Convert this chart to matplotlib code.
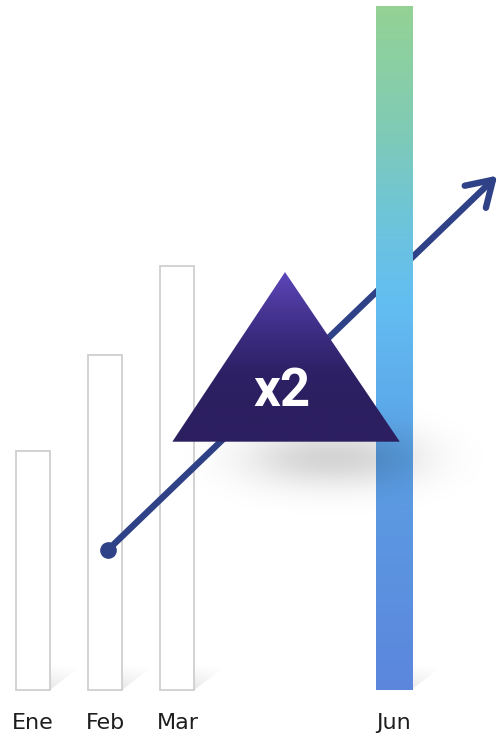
import numpy as np
import matplotlib.pyplot as plt
from matplotlib.colors import LinearSegmentedColormap
from matplotlib.patches import Polygon, FancyArrowPatch

# Data
months = ["Ene", "Feb", "Mar", "Abr", "May", "Jun"]
values = [35, 49, 62, 0, 0, 100]
shown = ["Ene", "Feb", "Mar", "Jun"]
trend_x = [1.04, 6.43]
trend_y = [20.5, 75.2]
badge_text = "x2"

# figure in pixel-like layout
fig = plt.figure(figsize=(4.98, 7.36), dpi=100)
ax = fig.add_axes([0, 0, 1, 1])
ax.set_xlim(-0.457, 6.44)
ax.set_ylim(-6.73, 100.88)
ax.axis("off")

bar_w = 0.47
xpos = np.arange(len(months))

# small diagonal shadows at bar bottoms
grey_fade = LinearSegmentedColormap.from_list("fade", [(0, 0, 0, 0.0), (0, 0, 0, 0.10)])
for i, m in enumerate(months):
    if m not in shown:
        continue
    r = xpos[i] + bar_w / 2
    tri = Polygon([(r, 0), (r + 0.47, 3.8), (r, 3.8)], closed=True,
                  facecolor="none", edgecolor="none")
    ax.add_patch(tri)
    g = np.linspace(1, 0, 50).reshape(-1, 1) * np.ones((1, 50))
    g = g * np.linspace(1, 0.3, 50).reshape(1, -1)
    im = ax.imshow(g, extent=[r, r + 0.47, 0, 3.8], origin="lower", cmap=grey_fade,
                   aspect="auto", zorder=1)
    im.set_clip_path(tri)

# outlined bars
for i, m in enumerate(months):
    if m in ["Ene", "Feb", "Mar"]:
        ax.bar(xpos[i], values[i], width=bar_w, facecolor="white", edgecolor="#cfcfcf",
               linewidth=1.3, zorder=2)

# trend arrow (passes behind the Jun bar)
arrow = FancyArrowPatch((trend_x[0], trend_y[0]), (trend_x[1], trend_y[1]),
                        arrowstyle="->,head_length=0.8,head_width=0.5",
                        mutation_scale=22, lw=4.6, color="#2f4187",
                        capstyle="round", joinstyle="round", zorder=3,
                        shrinkA=0, shrinkB=0)
ax.add_patch(arrow)
ax.plot(trend_x[0], trend_y[0], "o", ms=11, color="#2f4187", zorder=3)

# gradient bar for Jun
j = months.index("Jun")
jun_bar = ax.bar(xpos[j], values[j], width=bar_w + 0.03, facecolor="none",
                 edgecolor="none", zorder=4)[0]
jun_cmap = LinearSegmentedColormap.from_list(
    "jun", [(0.0, "#5b86dc"), (0.25, "#5c98e2"), (0.45, "#5eaeec"), (0.57, "#63bef2"),
            (0.68, "#6cc4dc"), (0.82, "#80cbb6"), (1.0, "#94d294")])
grad = np.linspace(0, 1, 256).reshape(-1, 1)
im = ax.imshow(grad, extent=[xpos[j] - 0.25, xpos[j] + 0.25, 0, values[j]],
               origin="lower", cmap=jun_cmap, aspect="auto", zorder=4)
im.set_clip_path(jun_bar)

# soft shadow under triangle
sx, sy = np.meshgrid(np.linspace(-1, 1, 300), np.linspace(-1, 1, 150))
alpha = np.exp(-(np.abs(sx) / 0.42) ** 2.4 - (np.abs(sy) / 0.36) ** 2) * 0.17
shadow = np.zeros((150, 300, 4))
shadow[..., 3] = alpha
ax.imshow(shadow, extent=[1.3, 7.0, 22.0, 46.0], origin="lower", aspect="auto", zorder=5)

# triangle badge with gradient
apex = (3.49, 61.1)
base_l = (1.93, 36.3)
base_r = (5.08, 36.3)
tri = Polygon([apex, base_l, base_r], closed=True, facecolor="none", edgecolor="none")
ax.add_patch(tri)
tri_cmap = LinearSegmentedColormap.from_list(
    "tri", ["#2c1f60", "#2d2064", "#392a7c", "#4a3798", "#5b46b9"])
tg = np.concatenate([np.zeros(40), np.linspace(0, 1, 160)]).reshape(-1, 1)
ti = ax.imshow(tg, extent=[base_l[0], base_r[0], base_l[1], apex[1]], origin="lower",
               cmap=tri_cmap, aspect="auto", zorder=6)
ti.set_clip_path(tri)
ax.text(3.45, 43.6, badge_text, color="white", fontsize=38, fontweight="bold",
        family=["Roboto", "DejaVu Sans"], ha="center", va="center", zorder=7)

# month labels
for i, m in enumerate(months):
    if m in shown:
        ax.text(xpos[i], -4.9, m, fontsize=16, color="#1e1e1e", ha="center",
                va="center", family=["DejaVu Sans"])

fig.savefig("out.png", dpi=100)
